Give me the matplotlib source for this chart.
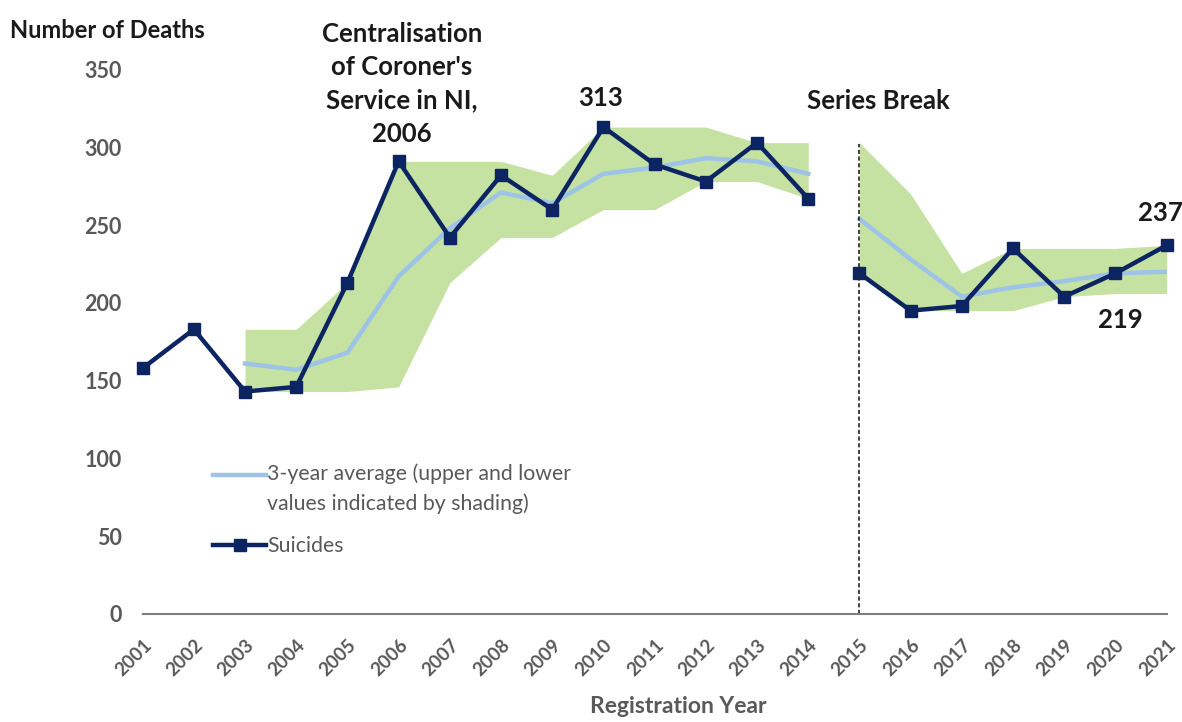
import numpy as np
import matplotlib.pyplot as plt
from matplotlib.lines import Line2D
from matplotlib.legend_handler import HandlerLine2D

years = list(range(2001, 2022))
suicides = [158, 183, 143, 146, 213, 291, 242, 282, 260, 313, 289,
            278, 303, 267, 219, 195, 198, 235, 204, 219, 237]

# 3-year average and shading, split at the series break
avg_years_a = list(range(2003, 2015))
avg_a = [161, 157, 168, 217, 248, 271, 264, 283, 287, 293, 291, 283]
upper_a = [183, 183, 213, 291, 291, 291, 282, 313, 313, 313, 303, 303]
lower_a = [143, 143, 143, 146, 213, 242, 242, 260, 260, 278, 278, 267]

avg_years_b = list(range(2015, 2022))
avg_b = [254, 228, 204, 210, 214, 219, 220]
upper_b = [303, 270, 219, 235, 235, 235, 237]
lower_b = [219, 195, 195, 195, 204, 206, 206]

navy = "#0c2461"
light = "#9dc3e6"
green = "#c5e2a3"
grey = "#595959"
dark = "#1a1a1a"


class FirstLineHandler(HandlerLine2D):
    # put the handle level with the first line of a two-line label
    def create_artists(self, legend, orig_handle, xdescent, ydescent, width, height, fontsize, trans):
        arts = super().create_artists(legend, orig_handle, xdescent, ydescent, width, height, fontsize, trans)
        for a in arts:
            a.set_ydata(np.asarray(a.get_ydata()) + 0.68 * fontsize)
        return arts


plt.rcParams['font.family'] = ['Lato', 'DejaVu Sans']

fig = plt.figure(figsize=(11.82, 7.22), dpi=100)
ax = fig.add_axes([0.1207, 0.1496, 0.987 - 0.1207, 0.9037 - 0.1496])

ax.fill_between(avg_years_a, lower_a, upper_a, color=green, lw=0)
ax.fill_between(avg_years_b, lower_b, upper_b, color=green, lw=0)
ax.plot(avg_years_a, avg_a, color=light, lw=3.2)
ax.plot(avg_years_b, avg_b, color=light, lw=3.2)

ax.plot(years[:14], suicides[:14], color=navy, lw=3.2, marker='s', ms=9, clip_on=False)
ax.plot(years[14:], suicides[14:], color=navy, lw=3.2, marker='s', ms=9, clip_on=False)

ax.plot([2015, 2015], [0, 302], color="#222222", lw=1.2, ls=(0, (2.5, 1.5)))

ax.set_xlim(2001, 2021)
ax.set_ylim(0, 350)
ax.set_yticks(range(0, 351, 50))
ax.set_xticks(years)
ax.set_xticklabels([str(y) for y in years], rotation=45, ha='right',
                   rotation_mode='anchor', fontsize=13.5, fontweight='bold', color=grey)
for lab in ax.get_yticklabels():
    lab.set_fontsize(15.5)
    lab.set_fontweight('bold')
    lab.set_color(grey)
ax.tick_params(axis='both', length=0)
ax.tick_params(axis='y', pad=15)
ax.tick_params(axis='x', pad=16)

for s in ['top', 'right', 'left']:
    ax.spines[s].set_visible(False)
ax.spines['bottom'].set_color("#7f7f7f")
ax.spines['bottom'].set_linewidth(1.5)

ax.set_xlabel("Registration Year", fontsize=16.5, fontweight='bold', color=grey)
ax.xaxis.set_label_coords(0.5228, -0.169)
ax.xaxis.label.set_va('center')

fig.text(10 / 1182, 1 - 30 / 722, "Number of Deaths", fontsize=17, fontweight='bold',
         color=dark, va='center', ha='left')
ax.text(2006.06, 301, "Centralisation\nof Coroner's\nService in NI,\n2006", ha='center',
        va='bottom', fontsize=18.5, fontweight='bold', color=dark, linespacing=1.47)
ax.text(2009.95, 331.5, "313", ha='center', va='center', fontsize=18.5,
        fontweight='bold', color=dark)
ax.text(2015.36, 330, "Series Break", ha='center', va='center', fontsize=18.5,
        fontweight='bold', color=dark)
ax.text(2020.88, 257.5, "237", ha='center', va='center', fontsize=18.5,
        fontweight='bold', color=dark)
ax.text(2020.09, 189, "219", ha='center', va='center', fontsize=18.5,
        fontweight='bold', color=dark)

avg_handle = Line2D([], [], color=light, lw=3.2)
sui_handle = Line2D([], [], color=navy, lw=3.2, marker='s', ms=9)
labels = ["3-year average (upper and lower\nvalues indicated by shading)", "Suicides"]
leg = ax.legend([avg_handle, sui_handle], labels, loc='upper left',
                bbox_to_anchor=(213 / 1182, 1 - 463 / 722),
                bbox_transform=fig.transFigure, frameon=False, fontsize=15.3,
                handlelength=2.5, handletextpad=0.05, labelspacing=1.05,
                borderpad=0, borderaxespad=0,
                handler_map={avg_handle: FirstLineHandler()})
for t in leg.get_texts():
    t.set_color(grey)
    t.set_linespacing(1.6)

fig.savefig("out.png", dpi=100)
